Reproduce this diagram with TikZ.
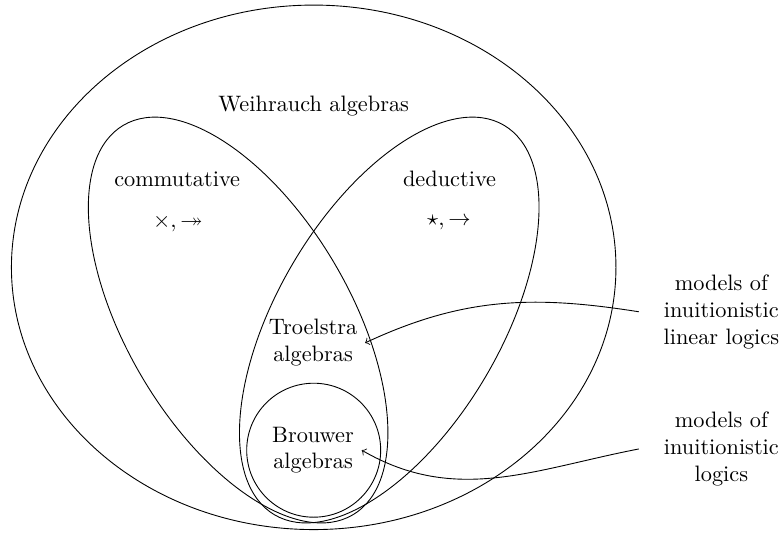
\documentclass[tikz,border=0pt]{standalone}
\usepackage{amssymb}
\usepackage{tikz}
\usetikzlibrary{calc,positioning}

\begin{document}
\begin{tikzpicture}[scale=1, every node/.style={align=center}]
		\useasboundingbox (0,0) rectangle (12.315,-8.441);

		\draw (4.94,-4.21) ellipse (4.76 and 4.13);
		\draw[rotate around={-59.5:(3.75,-5.04)}] (3.75,-5.04) ellipse (3.56 and 1.76);
		\draw[rotate around={59.5:(6.13,-5.04)}] (6.13,-5.04) ellipse (3.56 and 1.76);
		\draw (4.94,-7.09) circle (1.055);

		\node (weihrauch) at (4.94,-1.67) {Weihrauch algebras};
		\node (commutative) at (2.79,-2.82) {commutative};
		\node (crossops) at (2.80,-3.51) {$\times, \twoheadrightarrow$};
		\node (deductive) at (7.08,-2.82) {deductive};
		\node (starops) at (7.07,-3.51) {$\star, \rightarrow$};
		\node (troelstra) at (4.93,-5.40) {Troelstra\\algebras};
		\node (brouwer) at (4.93,-7.09) {Brouwer\\algebras};

		\node[text width=2.35cm] (linmodels) at (11.36,-4.91) {models of\\inuitionistic\\linear logics};
		\node[text width=2.35cm] (intmodels) at (11.36,-7.07) {models of\\inuitionistic\\logics};

		\draw[->] (linmodels.west) to[out=171,in=25] (troelstra.east);
		\draw[->] (intmodels.west) to[out=191,in=-30] (brouwer.east);
\end{tikzpicture}
\end{document}
